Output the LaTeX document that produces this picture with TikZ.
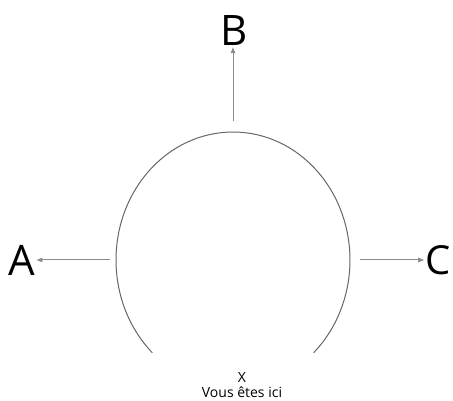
\documentclass[tikz,border=0pt]{standalone}
\usepackage{fontspec}
\setmainfont{Open Sans}
\usepackage{tikz}
\usetikzlibrary{arrows.meta}

\begin{document}
\begin{tikzpicture}[x=1pt, y=-1pt, >={Triangle[length=6pt,width=4.5pt]}]
    \useasboundingbox (0,0) rectangle (453,401);
    % Path
    \draw [line width=1pt, black!60] (233,260) ++(133.6:117 and 128) arc (133.6:406.4:117 and 128);
    % Ends of the arrows
    \coordinate (top) at (233,121);
    \coordinate (left) at (110,260);
    \coordinate (right) at (360,260);
    % Exits
    \node [inner sep=1pt] (B) at (234,31) {\fontsize{42}{42}\selectfont B};
    \node [inner sep=1pt] (A) at (22,260) {\fontsize{42}{42}\selectfont A};
    \node [inner sep=1pt] (C) at (438,260) {\fontsize{40}{40}\selectfont C};
    \draw [->, line width=1pt, black!45] (top) -- (top |- B.south);
    \draw [->, line width=1pt, black!45] (left) -- (A);
    \draw [->, line width=1pt, black!45] (right) -- (C);
    % You are here
    \node [align=center, inner sep=0pt, font=\fontsize{14}{15}\selectfont] (here) at (242,385) {X\\Vous êtes ici};
\end{tikzpicture}
\end{document}
